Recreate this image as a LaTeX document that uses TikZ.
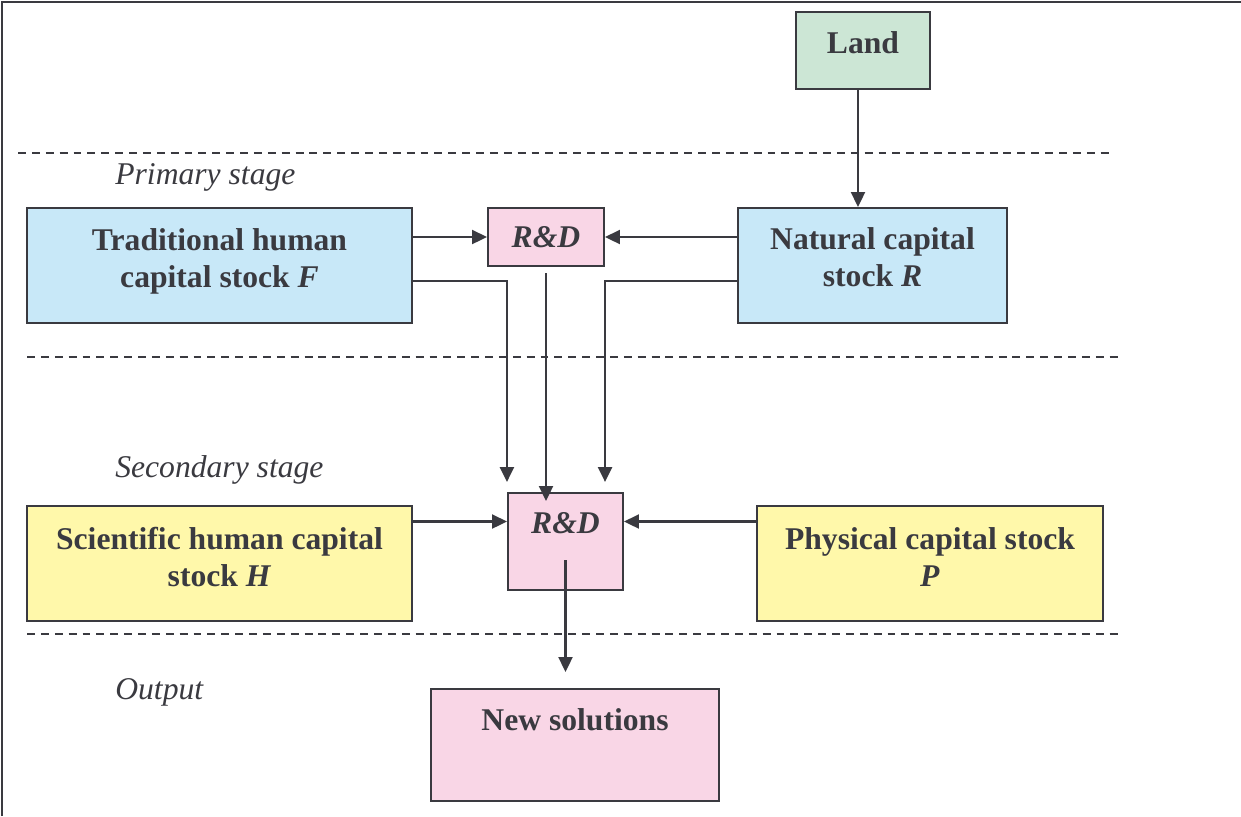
\documentclass[tikz,border=0pt]{standalone}
\usepackage{fontspec}
\setmainfont{Liberation Serif}
\usetikzlibrary{arrows.meta, positioning, calc}
\definecolor{landgreen}{RGB}{204,230,213}
\definecolor{stockblue}{RGB}{200,232,248}
\definecolor{rdpink}{RGB}{249,214,230}
\definecolor{stockyellow}{RGB}{255,248,170}
\definecolor{linegray}{RGB}{58,58,64}

\begin{document}
\begin{tikzpicture}[x=0.02cm, y=-0.02cm,
  box/.style={draw=linegray, line width=1.2pt, inner sep=0pt},
  boxtext/.style={font=\fontsize{18}{21}\selectfont\bfseries, text=linegray, align=center},
  arr/.style={draw=linegray, line width=1.2pt, -{Triangle[length=8.5pt, width=8pt]}},
  stage/.style={font=\fontsize{18}{21}\selectfont\itshape, text=linegray, inner sep=0pt, anchor=west},
  sepline/.style={draw=linegray, line width=1.1pt, dash pattern=on 4.5pt off 3.4pt}]
  \useasboundingbox (0,0) rectangle (1241,816);

  % Frame
  \draw[linegray, line width=1.3pt] (2,816) -- (2,2) -- (1241,2);

  % Stage separators
  \draw[sepline] (18,153) -- (1113,153);
  \draw[sepline] (27,357) -- (1122,357);
  \draw[sepline] (27,634) -- (1122,634);
  \node[stage] (primary) at (115,177) {Primary stage};
  \node[stage] (secondary) at (115,470) {Secondary stage};
  \node[stage] (output) at (115,692) {Output};

  % Primary stage
  \node[box, fill=landgreen, minimum width=2.68cm, minimum height=1.54cm,
    label={[boxtext, yshift=0.15cm]center:Land}] (land) at (863,50.5) {};
  \node[box, fill=stockblue, minimum width=7.7cm, minimum height=2.3cm,
    label={[boxtext, yshift=0.08cm]center:{Traditional human\\capital stock \textit{F}}}] (trad) at (219.5,265.5) {};
  \node[box, fill=rdpink, minimum width=2.32cm, minimum height=1.16cm,
    label={[boxtext]center:\textit{R\&D}}] (rd1) at (546,237) {};
  \node[box, fill=stockblue, minimum width=5.38cm, minimum height=2.3cm,
    label={[boxtext, yshift=0.16cm]center:{Natural capital\\stock \textit{R}}}] (nat) at (872.5,265.5) {};

  % Secondary stage
  \node[box, fill=rdpink, minimum width=2.3cm, minimum height=1.94cm,
    label={[boxtext, yshift=0.37cm]center:\textit{R\&D}}] (rd2) at (565.5,541.5) {};
  \node[box, fill=stockyellow, minimum width=7.7cm, minimum height=2.3cm,
    label={[boxtext, yshift=0.13cm]center:{Scientific human capital\\stock \textit{H}}}] (sci) at (219.5,563.5) {};
  \node[box, fill=stockyellow, minimum width=6.92cm, minimum height=2.3cm,
    label={[boxtext, yshift=0.13cm]center:{Physical capital stock\\\textit{P}}}] (phys) at (930,563.5) {};

  % Output
  \node[box, fill=rdpink, minimum width=5.76cm, minimum height=2.24cm,
    label={[boxtext, yshift=0.5cm]center:New solutions}] (new) at (575,745) {};

  % Arrows
  \draw[arr] ($(land.south)+(-5,0)$) -- ($(land.south |- nat.north)+(-5,0)$);
  \draw[arr] (trad.east |- rd1.west) -- (rd1.west);
  \draw[arr] (nat.west |- rd1.east) -- (rd1.east);
  \draw[arr] ($(trad.east)+(0,15.5)$) -| ($(rd2.north west)+(0,-10)$);
  \draw[arr] ($(nat.west)+(0,15.5)$) -| ($(rd1.east |- rd2.north)+(0,-10)$);
  \draw[arr] ($(rd1.south)+(0,6)$) -- ($(rd1.south |- rd2.north)+(0,9)$);
  \coordinate (rdin) at ($(rd2.west)+(0,-20)$);
  \draw[arr] (sci.east |- rdin) -- (rd2.west |- rdin);
  \draw[arr] (phys.west |- rdin) -- (rd2.east |- rdin);
  \draw[arr] ($(rd2.center)+(0,18.5)$) -- ($(rd2.center |- new.north)+(0,-16)$);
\end{tikzpicture}
\end{document}
